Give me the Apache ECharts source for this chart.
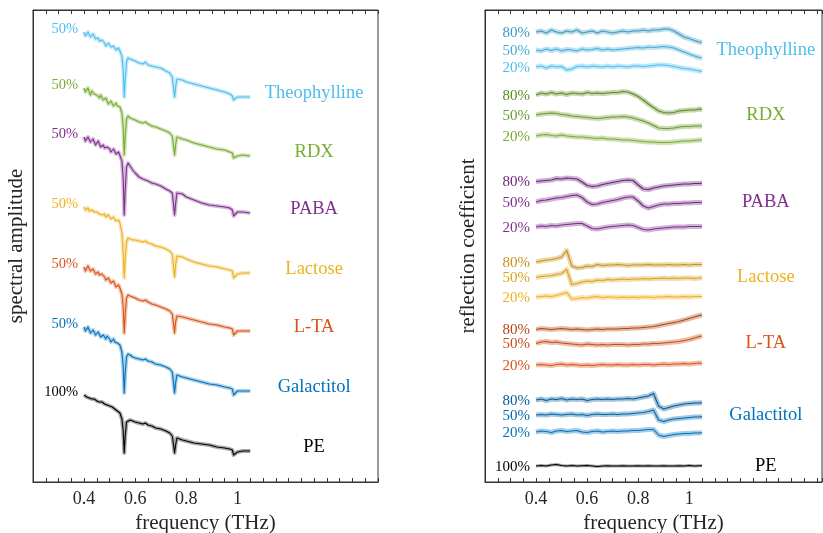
<!DOCTYPE html>
<html><head><meta charset="utf-8">
<script src="https://cdn.jsdelivr.net/npm/echarts@6/dist/echarts.min.js"></script>
<style>html,body{margin:0;padding:0;background:#fff;overflow:hidden}#c{width:823px;height:533px}</style>
</head><body><div id="c"></div><script>
// ---------- data: left panel (spectral amplitude, offset curves) ----------
const freqL = [0.400,0.405,0.410,0.415,0.420,0.425,0.430,0.435,0.440,0.445,0.450,0.455,0.460,0.465,0.470,0.475,0.480,0.485,0.490,0.495,0.500,0.505,0.510,0.515,0.520,0.525,0.530,0.535,0.540,0.548,0.553,0.557,0.561,0.566,0.572,0.580,0.590,0.600,0.615,0.630,0.640,0.650,0.665,0.680,0.700,0.720,0.735,0.745,0.750,0.754,0.758,0.763,0.770,0.785,0.800,0.830,0.860,0.890,0.920,0.950,0.970,0.980,0.985,0.990,1.000,1.020,1.050];
const ampTheophylline = [45.0,44.6,44.7,45.0,44.9,44.5,44.5,44.8,44.6,44.3,44.3,44.4,44.1,43.9,44.2,44.2,43.9,43.6,43.8,43.9,43.7,43.5,43.5,43.6,43.4,43.2,43.3,43.4,43.2,42.6,41.2,38.5,40.4,42.0,42.4,42.3,42.2,42.1,41.9,41.8,42.0,41.7,41.6,41.5,41.4,41.1,40.9,40.5,39.4,38.5,39.5,40.3,40.4,40.2,40.0,39.8,39.6,39.4,39.2,39.0,38.8,38.6,38.2,38.3,38.5,38.5,38.5];
const ampRDX = [39.4,39.0,39.2,39.4,39.0,38.7,39.1,39.2,38.8,38.6,38.7,38.8,38.4,38.7,38.5,38.2,38.2,38.4,38.1,37.8,38.0,38.1,37.9,37.6,37.7,37.9,37.6,37.4,37.5,36.9,35.4,32.7,34.7,36.3,36.6,36.4,36.3,36.2,36.0,35.9,36.0,35.8,35.6,35.5,35.3,35.1,34.9,34.6,33.6,32.7,33.7,34.5,34.5,34.3,34.2,33.9,33.7,33.5,33.3,33.2,33.0,32.9,32.4,32.5,32.6,32.7,32.6];
const ampPABA = [34.5,34.1,34.2,34.5,34.4,34.0,34.0,34.3,34.1,33.7,33.8,34.1,33.9,33.5,33.6,33.7,33.4,33.2,33.5,33.6,33.3,33.0,33.1,33.3,33.1,32.8,32.9,33.0,32.8,32.1,30.3,26.7,29.3,31.5,31.9,31.6,31.2,30.9,30.5,30.3,30.2,30.1,29.9,29.8,29.6,29.3,29.1,28.9,27.7,26.7,27.8,28.9,29.1,28.8,28.5,28.2,27.9,27.7,27.6,27.5,27.4,27.2,26.6,26.8,27.0,27.0,26.9];
const ampLactose = [27.5,27.2,27.3,27.4,27.1,26.9,27.2,27.3,27.0,26.8,27.0,27.1,26.8,26.6,26.7,26.9,26.8,26.5,26.6,26.7,26.5,26.3,26.4,26.5,26.3,26.1,26.2,26.2,25.9,24.9,23.0,20.4,22.5,24.0,24.4,24.3,24.2,24.2,24.1,24.0,24.1,23.9,23.8,23.6,23.5,23.3,23.1,22.8,21.5,20.5,21.7,22.6,22.7,22.5,22.3,22.0,21.8,21.6,21.5,21.3,21.2,21.1,20.4,20.5,20.8,20.9,20.9];
const ampLTA = [21.5,21.1,21.3,21.6,21.4,21.1,21.0,21.3,21.2,20.8,20.9,21.0,20.7,20.5,20.8,20.8,20.5,20.2,20.3,20.4,20.2,19.9,20.0,20.1,19.8,19.5,19.6,19.7,19.4,18.8,17.5,14.9,16.9,18.4,18.7,18.6,18.5,18.4,18.2,18.1,18.2,18.0,17.8,17.7,17.5,17.3,17.1,16.8,15.8,14.9,16.0,16.6,16.7,16.5,16.4,16.2,16.0,15.8,15.7,15.5,15.4,15.3,14.7,14.9,15.1,15.1,15.1];
const ampGalactitol = [15.5,15.1,15.2,15.5,15.3,14.9,15.1,15.2,15.0,14.7,14.8,15.0,14.9,14.5,14.6,14.7,14.5,14.3,14.6,14.5,14.3,14.0,14.2,14.3,14.0,13.8,13.9,13.9,13.7,13.0,11.5,8.9,11.0,12.5,12.8,12.7,12.5,12.4,12.3,12.2,12.3,12.1,12.0,11.8,11.7,11.5,11.3,11.0,9.9,8.9,9.9,10.7,10.7,10.5,10.4,10.2,10.0,9.8,9.7,9.5,9.4,9.3,8.7,8.9,9.1,9.1,9.1];
const ampPE = [8.7,8.5,8.5,8.6,8.4,8.2,8.3,8.4,8.3,8.1,8.1,8.2,8.0,7.9,8.0,7.9,7.8,7.8,7.7,7.6,7.6,7.6,7.5,7.3,7.3,7.3,7.1,7.0,6.9,6.3,5.1,2.9,4.7,6.0,6.2,6.2,6.1,6.0,5.9,5.8,5.9,5.7,5.6,5.4,5.3,5.1,4.9,4.6,3.7,2.9,3.7,4.4,4.4,4.2,4.1,3.9,3.8,3.7,3.5,3.4,3.3,3.2,2.7,2.9,3.0,3.1,3.1];

// ---------- data: right panel (reflection coefficient) ----------
const freqR = [0.40,0.42,0.44,0.46,0.48,0.50,0.52,0.54,0.56,0.58,0.60,0.62,0.64,0.66,0.68,0.70,0.72,0.74,0.76,0.78,0.80,0.82,0.84,0.86,0.88,0.90,0.92,0.94,0.96,0.98,1.00,1.02,1.04,1.05];
const reflTheo80 = [45.0,45.1,44.9,45.2,45.0,44.9,45.1,45.0,45.2,44.9,45.0,45.1,44.9,45.1,45.0,44.9,45.0,45.1,45.0,45.1,45.1,45.2,45.1,45.2,45.2,45.3,45.3,45.1,44.8,44.5,44.35,44.15,44.0,43.95];
const reflTheo50 = [43.2,43.1,43.3,43.15,43.3,43.1,43.25,43.2,43.1,43.3,43.2,43.25,43.35,43.2,43.3,43.2,43.25,43.3,43.35,43.4,43.45,43.4,43.5,43.45,43.5,43.55,43.5,43.4,43.2,43.0,42.8,42.6,42.45,42.4];
const reflTheo20 = [41.5,41.6,41.4,41.6,41.5,41.55,41.2,41.3,41.55,41.6,41.5,41.6,41.55,41.5,41.6,41.5,41.6,41.55,41.5,41.6,41.6,41.55,41.6,41.65,41.7,41.7,41.65,41.55,41.45,41.35,41.3,41.2,41.1,41.05];
const reflRDX80 = [38.7,38.9,38.8,38.95,38.8,38.9,38.75,38.9,38.85,38.8,38.95,38.85,38.9,38.85,38.9,38.95,38.95,39.05,39.0,38.8,38.55,38.2,37.8,37.45,37.1,36.95,36.9,36.95,37.1,37.15,37.2,37.2,37.3,37.25];
const reflRDX50 = [36.7,36.8,36.85,36.9,36.85,36.75,36.7,36.6,36.55,36.5,36.45,36.4,36.35,36.4,36.45,36.5,36.5,36.55,36.5,36.4,36.25,36.1,35.9,35.65,35.4,35.35,35.35,35.4,35.5,35.55,35.55,35.6,35.6,35.6];
const reflRDX20 = [34.6,34.7,34.75,34.65,34.6,34.7,34.6,34.55,34.5,34.5,34.45,34.4,34.35,34.4,34.3,34.3,34.25,34.2,34.2,34.15,34.1,34.05,34.0,34.0,33.95,33.95,33.95,34.0,34.05,34.1,34.1,34.15,34.2,34.2];
const reflPABA80 = [30.05,30.1,30.15,30.2,30.35,30.3,30.4,30.35,30.3,30.0,29.65,29.55,29.6,29.75,29.85,29.95,30.05,30.15,30.2,30.15,29.7,29.3,29.25,29.4,29.5,29.6,29.65,29.7,29.75,29.8,29.8,29.85,29.85,29.9];
const reflPABA50 = [28.0,28.15,28.2,28.3,28.4,28.45,28.55,28.65,28.7,28.45,28.0,27.75,27.8,27.95,28.05,28.15,28.25,28.4,28.5,28.5,28.1,27.6,27.4,27.55,27.7,27.8,27.8,27.85,27.85,27.9,27.9,27.95,27.95,27.95];
const reflPABA20 = [25.5,25.6,25.55,25.65,25.6,25.7,25.75,25.8,25.85,25.85,25.6,25.35,25.3,25.4,25.5,25.55,25.6,25.65,25.7,25.65,25.45,25.25,25.2,25.3,25.35,25.4,25.45,25.5,25.5,25.5,25.55,25.55,25.55,25.55];
const reflLac80 = [22.0,22.1,22.2,22.25,22.35,22.5,23.15,21.6,21.4,21.45,21.6,21.55,21.75,21.65,21.7,21.7,21.75,21.7,21.65,21.7,21.7,21.7,21.75,21.7,21.7,21.7,21.75,21.7,21.7,21.75,21.7,21.75,21.75,21.75];
const reflLac50 = [20.45,20.55,20.6,20.65,20.75,20.85,21.25,19.75,19.85,20.0,20.1,20.05,20.2,20.15,20.25,20.2,20.25,20.3,20.25,20.3,20.3,20.35,20.3,20.35,20.35,20.4,20.35,20.4,20.35,20.4,20.4,20.35,20.4,20.4];
const reflLac20 = [18.5,18.55,18.6,18.55,18.65,18.8,18.95,18.3,18.35,18.45,18.4,18.5,18.55,18.45,18.5,18.5,18.45,18.5,18.45,18.5,18.45,18.5,18.5,18.45,18.5,18.5,18.55,18.5,18.5,18.55,18.5,18.55,18.55,18.55];
const reflLTA80 = [15.25,15.35,15.3,15.25,15.3,15.35,15.3,15.25,15.3,15.25,15.2,15.25,15.3,15.25,15.3,15.3,15.3,15.35,15.35,15.4,15.4,15.45,15.5,15.55,15.65,15.75,15.85,15.95,16.05,16.2,16.35,16.5,16.65,16.7];
const reflLTA50 = [13.85,14.0,14.05,13.95,14.0,13.9,13.85,13.8,13.75,13.7,13.8,13.75,13.7,13.75,13.7,13.75,13.75,13.75,13.7,13.75,13.75,13.8,13.8,13.85,13.85,13.9,13.95,14.0,14.05,14.15,14.25,14.4,14.55,14.6];
const reflLTA20 = [11.7,11.75,11.7,11.65,11.75,11.8,11.7,11.75,11.7,11.65,11.7,11.65,11.7,11.75,11.7,11.7,11.75,11.7,11.7,11.75,11.7,11.75,11.75,11.7,11.75,11.8,11.75,11.8,11.8,11.85,11.8,11.85,11.9,11.85];
const reflGal80 = [8.2,8.3,8.15,8.3,8.25,8.35,8.2,8.3,8.25,8.3,8.15,8.25,8.3,8.25,8.3,8.25,8.3,8.3,8.35,8.3,8.4,8.5,8.6,8.85,7.6,7.3,7.45,7.6,7.7,7.8,7.85,7.9,7.9,7.95];
const reflGal50 = [6.7,6.75,6.7,6.8,6.75,6.7,6.75,6.8,6.7,6.75,6.65,6.75,6.8,6.75,6.75,6.8,6.75,6.8,6.8,6.85,6.9,6.95,7.05,7.2,6.2,6.05,6.2,6.3,6.35,6.4,6.45,6.5,6.5,6.55];
const reflGal20 = [5.0,5.1,5.05,4.95,5.1,5.15,5.05,5.1,5.15,5.0,4.95,5.05,5.1,5.0,5.05,5.1,5.05,5.1,5.1,5.15,5.15,5.2,5.25,5.25,4.7,4.55,4.65,4.75,4.8,4.85,4.85,4.9,4.9,4.95];
const reflPE = [1.6,1.65,1.6,1.7,1.75,1.65,1.6,1.65,1.6,1.62,1.65,1.6,1.55,1.6,1.62,1.6,1.6,1.62,1.6,1.6,1.62,1.6,1.62,1.6,1.6,1.62,1.6,1.6,1.62,1.6,1.65,1.6,1.62,1.62];

// ---------- labels ----------
const materials = ['Theophylline','RDX','PABA','Lactose','L-TA','Galactitol','PE'];
const leftPct = ['50%','50%','50%','50%','50%','50%','100%'];
const rightPct = ['80%','50%','20%'];
const pePct = '100%';
const xTickValues = [0.4,0.6,0.8,1.0];
const xTickLabels = ['0.4','0.6','0.8','1'];
const xTitle = 'frequency (THz)';
const yTitleL = 'spectral amplitude';
const yTitleR = 'reflection coefficient';
const nameLabelX = 1.3;

// ---------- styles ----------
const baseColors = ['#4DBEEE','#77AC30','#7E2F8E','#EDB120','#D95319','#0072BD','#000000'];
const shadeColors = [
  ['#3E9AC2','#46ACD8','#4DBEEE'],
  ['#5B8A22','#6A9C2A','#77AC30'],
  ['#6B2379','#762B86','#7E2F8E'],
  ['#C4921A','#D9A21D','#EDB120'],
  ['#B54414','#C84C17','#D95319'],
  ['#005C99','#0067AB','#0072BD']
];
const FONT = '"Liberation Serif", "Times New Roman", serif';
const AX = '#333333';

const leftData = [ampTheophylline, ampRDX, ampPABA, ampLactose, ampLTA, ampGalactitol, ampPE];
const rightData = [
  [reflTheo80, reflTheo50, reflTheo20],
  [reflRDX80, reflRDX50, reflRDX20],
  [reflPABA80, reflPABA50, reflPABA20],
  [reflLac80, reflLac50, reflLac20],
  [reflLTA80, reflLTA50, reflLTA20],
  [reflGal80, reflGal50, reflGal20],
  [reflPE]
];

const series = [];
function addCurve(xs, ys, color, xi, yi, bandW, bandOp) {
  const d = xs.map((x, i) => [x, ys[i]]);
  series.push({type:'line', xAxisIndex:xi, yAxisIndex:yi, data:d, symbol:'none', silent:true, z:2,
    lineStyle:{color:color, width:bandW, opacity:bandOp, join:'round'}});
  series.push({type:'line', xAxisIndex:xi, yAxisIndex:yi, data:d, symbol:'none', silent:true, z:3,
    lineStyle:{color:color, width:1.1, join:'round'}});
}
leftData.forEach((ys, i) => addCurve(freqL, ys, baseColors[i], 0, 0, 4, 0.33));
rightData.forEach((group, i) => group.forEach((ys, j) => {
  const c = i < 6 ? shadeColors[i][j] : '#000000';
  addCurve(freqR, ys, c, 2, 1, i < 6 ? 5 : 3, 0.36);
}));

function tickFmt(v) {
  const k = xTickValues.findIndex(t => Math.abs(t - v) < 1e-6);
  return k >= 0 ? xTickLabels[k] : '';
}
function xAxis(gi, max, top) {
  return {type:'value', gridIndex:gi, min:0.2, max:max, interval:0.05, position: top ? 'top' : 'bottom',
    axisLine:{show:true, onZero:false, lineStyle:{color:AX, width:1}},
    axisTick:{show:true, inside:true, length:4, lineStyle:{color:AX, width:1}},
    axisLabel:{show:!top, margin:8, fontFamily:FONT, fontSize:18, color:'#262626', formatter:tickFmt, showMinLabel:true, showMaxLabel:true},
    splitLine:{show:false},
    name: top ? '' : xTitle, nameLocation:'middle', nameGap:29,
    nameTextStyle:{fontFamily:FONT, fontSize:21, color:'#262626'}};
}
function yAxis(gi, title) {
  return {type:'value', gridIndex:gi, min:0, max:47.2,
    axisLine:{show:true, onZero:false, lineStyle:{color:AX, width:1}},
    axisTick:{show:false}, axisLabel:{show:false}, splitLine:{show:false},
    name:title, nameLocation:'middle', nameGap:6,
    nameTextStyle:{fontFamily:FONT, fontSize:21, color:'#262626'}};
}

const option = {
  animation:false,
  backgroundColor:'#ffffff',
  grid:[
    {left:33, top:10, width:345, height:472, show:true, borderColor:AX, borderWidth:1, containLabel:false, outerBoundsMode:'none'},
    {left:485, top:10, width:337, height:472, show:true, borderColor:AX, borderWidth:1, containLabel:false, outerBoundsMode:'none'}
  ],
  xAxis:[xAxis(0,1.55,false), xAxis(0,1.55,true), xAxis(1,1.52,false), xAxis(1,1.52,true)],
  yAxis:[yAxis(0,yTitleL), yAxis(1,yTitleR)],
  series:series
};

const chart = echarts.init(document.getElementById('c'), null, {renderer:'canvas', width:823, height:533});
chart.setOption(option);

const g = [];
function px(xi, yi, x, y) { return chart.convertToPixel({xAxisIndex:xi, yAxisIndex:yi}, [x, y]); }
function txt(x, y, s, color, size, align) {
  g.push({type:'text', x:x, y:y, silent:true, z:10,
    style:{text:s, fill:color, fontFamily:FONT, fontSize:size, align:align, verticalAlign:'middle'}});
}
leftData.forEach((ys, i) => {
  const p0 = px(0, 0, freqL[0], ys[0]);
  txt(p0[0] - 6, p0[1] - 3, leftPct[i], baseColors[i], 14.5, 'right');
  const p1 = px(0, 0, nameLabelX, ys[ys.length - 1]);
  txt(p1[0], p1[1] - 4, materials[i], baseColors[i], 18.5, 'center');
});
rightData.forEach((group, i) => {
  group.forEach((ys, j) => {
    const p0 = px(2, 1, freqR[0], ys[0]);
    const c = i < 6 ? shadeColors[i][j] : '#000000';
    txt(p0[0] - 6, p0[1] + 1, i < 6 ? rightPct[j] : pePct, c, 15, 'right');
  });
  const mid = group[Math.min(1, group.length - 1)];
  const p1 = px(2, 1, nameLabelX, mid[0]);
  txt(p1[0], p1[1], materials[i], baseColors[i], 18.5, 'center');
});
chart.setOption({graphic:g});
</script></body></html>
